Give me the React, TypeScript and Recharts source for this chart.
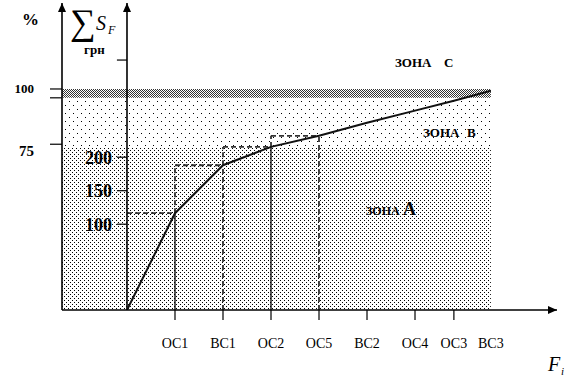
import React from 'react';
import {
  ComposedChart,
  Line,
  XAxis,
  YAxis,
  ReferenceArea,
  ReferenceLine,
  ReferenceDot,
} from 'recharts';

// ---------- data ----------
const categories = ['ОС1', 'ВС1', 'ОС2', 'ОС5', 'ВС2', 'ОС4', 'ОС3', 'ВС3'];
const categoryPositions = [1, 2, 3, 4, 5, 6, 6.81, 7.58];
const cumulativePct = [43.8, 65.5, 73.8, 78.8, 84.7, 90.2, 94.7, 99.2];
const pctTicks = [100, 96, 75];
const pctTickLabels = ['100', '', '75'];
const grnTicks = [100, 150, 200, 345];
const grnTickLabels = ['100', '150', '200', ''];
const zoneBounds = [0, 73.3, 96, 100]; // A: 0-73.3, B: 73.3-96, C: 96-100
const boxedItems = 4; // first four items drawn with dashed boxes
const solidStemItems = ['ОС1', 'ОС2'];

// ---------- axes domains ----------
const xDomain = [-1.354, 8.958];
const pctDomain = [0, 138.9];
const grnDomain = [-28.06, 430.15];

const SERIF = '"Liberation Serif", "DejaVu Serif", serif';

const curveData = [{ x: 0, pct: 0 }].concat(
  categories.map((c, i) => ({ x: categoryPositions[i], pct: cumulativePct[i] }))
);

const pctLabelDy = [0, 0, 7];

const XTick = (props: any) => {
  const { x, y, payload } = props;
  const idx = categoryPositions.indexOf(payload.value);
  const label = categories[idx];
  return (
    <g>
      {idx < categories.length - 1 && (
        <line x1={x} x2={x} y1={y} y2={y + 10} stroke="#000" strokeWidth={1.2} />
      )}
      <text x={x} y={y + 38} textAnchor="middle" fontFamily={SERIF} fontSize={14} fill="#000">
        {label}
      </text>
    </g>
  );
};

const PctTick = (props: any) => {
  const { x, y, payload } = props;
  const idx = pctTicks.indexOf(payload.value);
  return (
    <g>
      <line x1={x - 12} x2={x} y1={y} y2={y} stroke="#000" strokeWidth={1.2} />
      <text
        x={x - 28}
        y={y + pctLabelDy[idx]}
        textAnchor="end"
        dominantBaseline="central"
        fontFamily={SERIF}
        fontWeight="bold"
        fontSize={idx === 0 ? 13 : 15}
        fill="#000"
      >
        {pctTickLabels[idx]}
      </text>
    </g>
  );
};

const arrowRight = (p: any) => (
  <path d={`M${p.cx},${p.cy} l-9,-4 l0,8 z`} fill="#000" />
);
const arrowUp = (p: any) => (
  <path d={`M${p.cx},${p.cy} l-4,9 l8,0 z`} fill="#000" />
);

export default function App() {
  const lastX = categoryPositions[categoryPositions.length - 1];

  const dashed: any[] = [];
  for (let i = 0; i < boxedItems; i++) {
    const x0 = i === 0 ? 0 : categoryPositions[i - 1];
    const x1 = categoryPositions[i];
    const yTop = cumulativePct[i];
    const yPrev = i === 0 ? 0 : cumulativePct[i - 1];
    dashed.push({ a: { x: x0, y: yTop }, b: { x: x1, y: yTop }, solid: false });
    if (i > 0) dashed.push({ a: { x: x0, y: yPrev }, b: { x: x0, y: yTop }, solid: false });
    dashed.push({
      a: { x: x1, y: 0 },
      b: { x: x1, y: yTop },
      solid: solidStemItems.includes(categories[i]),
    });
  }

  return (
    <div style={{ position: 'absolute', left: 0, top: 0, width: 570, height: 378, background: '#fff' }}>
      <svg width={0} height={0} style={{ position: 'absolute' }}>
        <defs>
          <pattern id="zoneA" width={4} height={4} patternUnits="userSpaceOnUse">
            <rect x={0} y={0} width={1} height={1} fill="#000" />
            <rect x={2} y={2} width={1} height={1} fill="#000" />
          </pattern>
          <pattern id="zoneB" width={8} height={8} patternUnits="userSpaceOnUse">
            <rect x={1} y={1} width={1} height={1} fill="#000" />
            <rect x={5} y={5} width={1} height={1} fill="#000" />
          </pattern>
          <pattern id="zoneC" width={2} height={2} patternUnits="userSpaceOnUse">
            <rect x={0} y={0} width={1} height={1} fill="#333" />
            <rect x={1} y={1} width={1} height={1} fill="#333" />
          </pattern>
        </defs>
      </svg>
      <ComposedChart
        width={570}
        height={378}
        data={curveData}
        margin={{ top: 3, right: 13, left: 0, bottom: 0 }}
      >
        <XAxis
          type="number"
          dataKey="x"
          domain={xDomain}
          allowDataOverflow
          ticks={categoryPositions}
          interval={0}
          height={68}
          tickSize={0}
          tickMargin={0}
          tickLine={false}
          tick={<XTick />}
          axisLine={{ stroke: '#000', strokeWidth: 1.6 }}
        />
        <YAxis
          yAxisId="pct"
          orientation="left"
          type="number"
          domain={pctDomain}
          allowDataOverflow
          ticks={pctTicks}
          interval={0}
          width={62}
          tickSize={0}
          tickMargin={0}
          tickLine={false}
          tick={<PctTick />}
          axisLine={{ stroke: '#000', strokeWidth: 1.6 }}
        />
        <YAxis
          yAxisId="grn"
          orientation="right"
          width={0}
          type="number"
          domain={grnDomain}
          allowDataOverflow
          hide
        />

        <ReferenceArea
          yAxisId="pct"
          x1={xDomain[0]}
          x2={lastX}
          y1={zoneBounds[0]}
          y2={zoneBounds[1]}
          fill="url(#zoneA)"
          fillOpacity={1}
          stroke="none"
          ifOverflow="visible"
        />
        <ReferenceArea
          yAxisId="pct"
          x1={xDomain[0]}
          x2={lastX}
          y1={zoneBounds[1]}
          y2={zoneBounds[2]}
          fill="url(#zoneB)"
          fillOpacity={1}
          stroke="none"
          ifOverflow="visible"
        />
        <ReferenceArea
          yAxisId="pct"
          x1={xDomain[0]}
          x2={lastX}
          y1={zoneBounds[2]}
          y2={zoneBounds[3]}
          fill="url(#zoneC)"
          fillOpacity={1}
          stroke="none"
          ifOverflow="visible"
        />

        {dashed.map((s, i) => (
          <ReferenceLine
            key={'d' + i}
            yAxisId="pct"
            segment={[s.a, s.b]}
            stroke={s.solid ? '#000' : '#333'}
            strokeWidth={s.solid ? 1.3 : 1.8}
            strokeDasharray={s.solid ? undefined : '5 3'}
            ifOverflow="visible"
          />
        ))}

        <ReferenceLine yAxisId="pct" x={0} stroke="#000" strokeWidth={1.6} ifOverflow="visible" />

        {grnTicks.map((v, i) => (
          <ReferenceLine
            key={'g' + i}
            yAxisId="grn"
            segment={[{ x: -0.21, y: v }, { x: 0, y: v }]}
            stroke="#000"
            strokeWidth={1.2}
            ifOverflow="visible"
            label={
              grnTickLabels[i]
                ? {
                    value: grnTickLabels[i],
                    position: 'left',
                    offset: 5,
                    fill: '#000',
                    fontSize: 18,
                    fontWeight: 'bold',
                    fontFamily: SERIF,
                  }
                : undefined
            }
          />
        ))}

        <Line
          yAxisId="pct"
          type="linear"
          dataKey="pct"
          data={curveData}
          stroke="#111"
          strokeWidth={2}
          dot={false}
          isAnimationActive={false}
        />

        <ReferenceDot yAxisId="pct" x={xDomain[1]} y={0} r={0} shape={arrowRight} ifOverflow="visible" />
        <ReferenceDot yAxisId="pct" x={xDomain[0]} y={pctDomain[1]} r={0} shape={arrowUp} ifOverflow="visible" />
        <ReferenceDot yAxisId="pct" x={0} y={pctDomain[1]} r={0} shape={arrowUp} ifOverflow="visible" />
      </ComposedChart>

      <svg
        width={570}
        height={378}
        style={{ position: 'absolute', left: 0, top: 0, pointerEvents: 'none' }}
        fontFamily={SERIF}
        fill="#000"
      >
        <text x={22} y={25} fontSize={17} fontWeight="bold">%</text>
        <text x={70} y={34} fontSize={36}>∑</text>
        <text x={96} y={30} fontSize={20} fontStyle="italic">S</text>
        <text x={108} y={34} fontSize={12} fontStyle="italic">F</text>
        <text x={84} y={54} fontSize={13} fontWeight="bold">грн</text>

        <text x={395} y={67} fontSize={13} fontWeight="bold">ЗОНА</text>
        <text x={444} y={67} fontSize={13} fontWeight="bold">С</text>
        <text x={423} y={137} fontSize={13} fontWeight="bold">ЗОНА</text>
        <text x={467} y={137} fontSize={13} fontWeight="bold">В</text>
        <text x={366} y={215} fontSize={12} fontWeight="bold">ЗОНА</text>
        <text x={403} y={215} fontSize={18} fontWeight="bold">А</text>

        <text x={548} y={371} fontSize={20} fontStyle="italic">F</text>
        <text x={561} y={375} fontSize={11} fontStyle="italic">i</text>
      </svg>
    </div>
  );
}
